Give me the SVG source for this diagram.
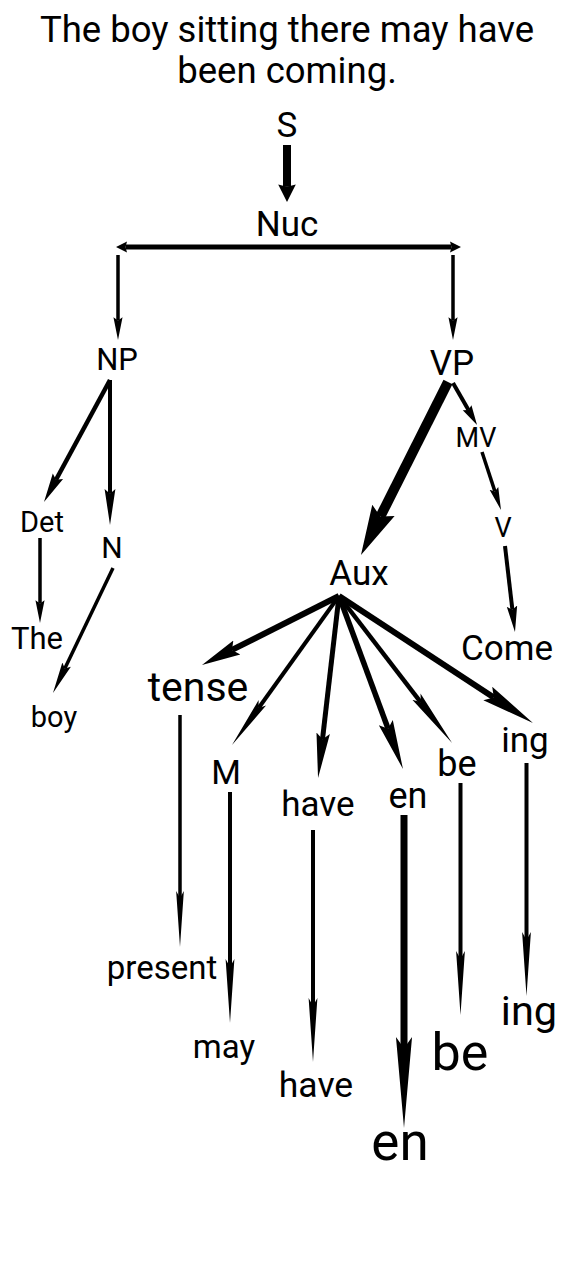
<svg xmlns="http://www.w3.org/2000/svg" width="575" height="1280" viewBox="0 0 575 1280">
<style>
text{font-family:Roboto,"Liberation Sans",sans-serif;fill:#000;text-anchor:middle}
.c line{stroke:#000;fill:none}
</style>
<defs>
<marker id="hs" markerUnits="strokeWidth" viewBox="0 -2 3 4" refX="0.3" refY="0" markerWidth="3" markerHeight="4" orient="auto-start-reverse"><path d="M0,-1.1 L2.2,0 L0,1.1 L0.3,0 Z"/></marker>
<marker id="h5" markerUnits="strokeWidth" viewBox="0 -2 6 4" refX="0.7" refY="0" markerWidth="6" markerHeight="4" orient="auto"><path d="M0,-1.25 L5,0 L0,1.25 L0.7,0 Z"/></marker>
<marker id="hm" markerUnits="strokeWidth" viewBox="0 -2 7 4" refX="0.9" refY="0" markerWidth="7" markerHeight="4" orient="auto"><path d="M0,-1.3 L6.5,0 L0,1.3 L0.9,0 Z"/></marker>
<marker id="h9" markerUnits="strokeWidth" viewBox="0 -2 10 4" refX="1.2" refY="0" markerWidth="10" markerHeight="4" orient="auto"><path d="M0,-1.35 L9,0 L0,1.35 L1.2,0 Z"/></marker>
<marker id="hl" markerUnits="strokeWidth" viewBox="0 -2 14 4" refX="1.6" refY="0" markerWidth="14" markerHeight="4" orient="auto"><path d="M0,-1.15 L13,0 L0,1.15 L1.6,0 Z"/></marker>
<marker id="hx" markerUnits="strokeWidth" viewBox="0 -2 17 4" refX="2" refY="0" markerWidth="17" markerHeight="4" orient="auto"><path d="M0,-1.1 L16,0 L0,1.1 L2,0 Z"/></marker>
</defs>

<g id="title">
<text x="287" y="42" font-size="36.5">The boy sitting there may have</text>
<text x="287" y="83" font-size="36.5">been coming.</text>
</g>

<g id="connectors" class="c">
<line x1="287" y1="145" x2="287" y2="186.8" stroke-width="8" marker-end="url(#hs)"/>
<line x1="125.5" y1="247" x2="451.5" y2="247" stroke-width="5" marker-start="url(#hs)" marker-end="url(#hs)"/>
<line x1="118" y1="255" x2="118" y2="320.4" stroke-width="3.5" marker-end="url(#hm)"/>
<line x1="453" y1="255" x2="453" y2="320.4" stroke-width="3.5" marker-end="url(#hm)"/>
<line x1="110" y1="380" x2="56" y2="479.8" stroke-width="4.5" marker-end="url(#hm)"/>
<line x1="110" y1="380" x2="110" y2="493.8" stroke-width="4" marker-end="url(#h9)"/>
<line x1="40" y1="538" x2="40" y2="603.4" stroke-width="3.5" marker-end="url(#hm)"/>
<line x1="113" y1="568" x2="64.8" y2="668.4" stroke-width="3.5" marker-end="url(#h9)"/>
<line x1="448" y1="382" x2="380.3" y2="516.6" stroke-width="10" marker-end="url(#h5)"/>
<line x1="453" y1="383" x2="468.5" y2="410.1" stroke-width="4" marker-end="url(#h5)"/>
<line x1="482" y1="452" x2="494.9" y2="491.4" stroke-width="3.5" marker-end="url(#hm)"/>
<line x1="505" y1="546" x2="512.4" y2="609.8" stroke-width="4" marker-end="url(#hm)"/>
<line x1="339" y1="596" x2="232" y2="649.9" stroke-width="6" marker-end="url(#hm)"/>
<line x1="339" y1="596" x2="258.6" y2="708" stroke-width="4" marker-end="url(#hl)"/>
<line x1="339" y1="596" x2="322.5" y2="739.3" stroke-width="5" marker-end="url(#h9)"/>
<line x1="339" y1="596" x2="388.1" y2="728.8" stroke-width="5.5" marker-end="url(#h9)"/>
<line x1="339" y1="596" x2="420.8" y2="702.3" stroke-width="4.5" marker-end="url(#hl)"/>
<line x1="339" y1="596" x2="493.8" y2="697.4" stroke-width="6" marker-end="url(#h9)"/>
<line x1="180" y1="715" x2="180" y2="898" stroke-width="3.5" marker-end="url(#hx)"/>
<line x1="230" y1="792" x2="230" y2="967" stroke-width="4" marker-end="url(#hx)"/>
<line x1="313" y1="830" x2="313" y2="1006" stroke-width="4" marker-end="url(#hx)"/>
<line x1="404" y1="815" x2="404" y2="1048.2" stroke-width="7" marker-end="url(#hl)"/>
<line x1="460.5" y1="783" x2="460.5" y2="959" stroke-width="4" marker-end="url(#hx)"/>
<line x1="526.5" y1="763" x2="526.5" y2="940" stroke-width="4" marker-end="url(#hx)"/>
</g>

<g id="n-S"><text x="287" y="137" font-size="35">S</text></g>
<g id="n-Nuc"><text x="287" y="236" font-size="35">Nuc</text></g>
<g id="n-NP"><text x="117" y="370" font-size="31">NP</text></g>
<g id="n-VP"><text x="452" y="375" font-size="35">VP</text></g>
<g id="n-Det"><text x="42" y="532" font-size="29">Det</text></g>
<g id="n-N"><text x="112" y="558" font-size="30">N</text></g>
<g id="n-The"><text x="37" y="649" font-size="31">The</text></g>
<g id="n-boy"><text x="54" y="727" font-size="29">boy</text></g>
<g id="n-MV"><text x="476" y="447" font-size="27">MV</text></g>
<g id="n-V"><text x="503" y="537" font-size="27">V</text></g>
<g id="n-Aux"><text x="359" y="585" font-size="35">Aux</text></g>
<g id="n-Come"><text x="507" y="660" font-size="35">Come</text></g>
<g id="n-tense"><text x="198" y="701" font-size="41">tense</text></g>
<g id="n-M"><text x="226" y="784" font-size="34">M</text></g>
<g id="n-have1"><text x="318" y="816" font-size="35">have</text></g>
<g id="n-en1"><text x="408" y="808" font-size="36">en</text></g>
<g id="n-be1"><text x="457" y="776" font-size="36">be</text></g>
<g id="n-ing1"><text x="525" y="752" font-size="35">ing</text></g>
<g id="n-present"><text x="162" y="979" font-size="33">present</text></g>
<g id="n-may"><text x="224" y="1058" font-size="33">may</text></g>
<g id="n-have2"><text x="316" y="1097" font-size="35.5">have</text></g>
<g id="n-en2"><text x="400" y="1160" font-size="53">en</text></g>
<g id="n-be2"><text x="460" y="1070" font-size="52">be</text></g>
<g id="n-ing2"><text x="529" y="1025" font-size="41.5">ing</text></g>
</svg>
